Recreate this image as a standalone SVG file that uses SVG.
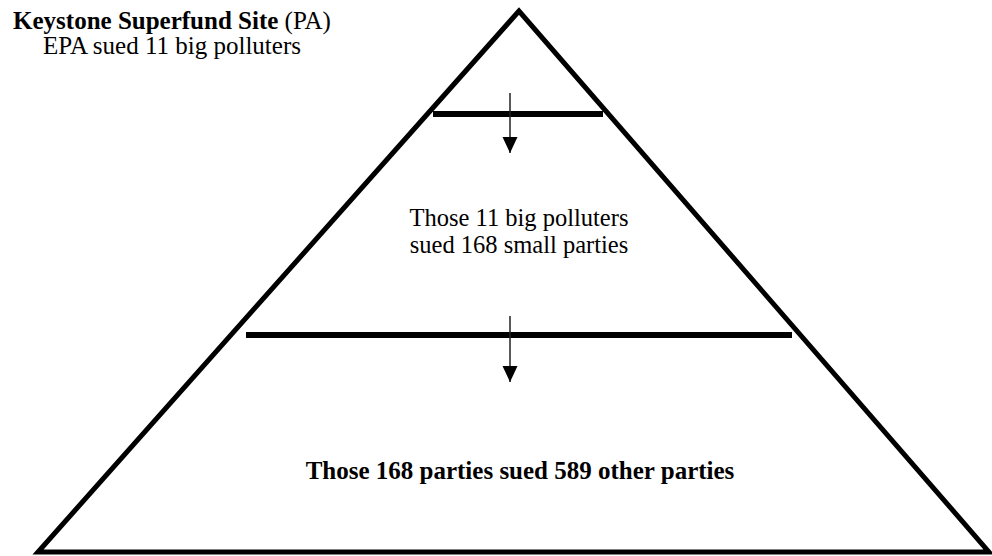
<svg xmlns="http://www.w3.org/2000/svg" width="992" height="556" viewBox="0 0 992 556">
<style>
.t{font-family:"Liberation Serif","Times New Roman",serif;font-size:25px;fill:#000}
.m{font-size:24.5px}
.b{font-weight:bold}
.edge{stroke:#000;stroke-width:5;fill:none}
.bar{stroke:#000;stroke-width:6;fill:none}
.arr{stroke:#222;stroke-width:1.5;fill:none;marker-end:url(#ah)}
</style>
<defs>
<marker id="ah" markerUnits="userSpaceOnUse" markerWidth="16" markerHeight="16" refX="16" refY="7.5" orient="auto" viewBox="0 0 16 15">
<path d="M0,0 L16,7.5 L0,15 Z" fill="#000"/>
</marker>
</defs>
<rect width="992" height="556" fill="#fff"/>
<g id="pyramid">
<polygon class="edge" points="519,11 38,552 989,552" stroke-linejoin="miter" stroke-miterlimit="10"/>
</g>
<g id="tier1">
<line class="bar" x1="433" y1="114" x2="603" y2="114"/>
</g>
<g id="tier2">
<line class="bar" x1="246" y1="335" x2="792" y2="335"/>
</g>
<g id="label-top">
<text class="t" x="172" y="29" text-anchor="middle"><tspan class="b">Keystone Superfund Site</tspan> (PA)</text>
<text class="t" x="172" y="54" text-anchor="middle">EPA sued 11 big polluters</text>
</g>
<g id="label-mid">
<text class="t m" x="519" y="226" text-anchor="middle">Those 11 big polluters</text>
<text class="t m" x="519" y="253" text-anchor="middle">sued 168 small parties</text>
</g>
<g id="label-bottom">
<text class="t b" x="520" y="479" text-anchor="middle">Those 168 parties sued 589 other parties</text>
</g>
<g id="connectors">
<line class="arr" x1="510" y1="93" x2="510" y2="153"/>
<line class="arr" x1="510" y1="316" x2="510" y2="382"/>
</g>
</svg>
